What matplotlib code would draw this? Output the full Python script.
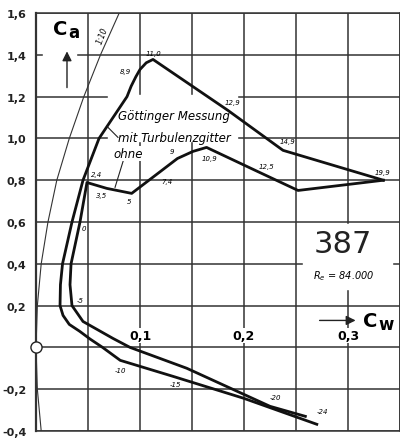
import matplotlib.pyplot as plt
from matplotlib.patches import Rectangle

plt.rcParams['font.family'] = ['Liberation Sans Narrow', 'DejaVu Sans']

# polar with turbulence grid (Göttinger Messung mit Turbulenzgitter)
cw_mit = [0.270, 0.200, 0.132, 0.081, 0.064, 0.052, 0.042, 0.032, 0.026, 0.0231, 0.0235,
          0.0255, 0.0346, 0.0452, 0.0606, 0.0875, 0.0915, 0.096, 0.100, 0.106, 0.1125,
          0.1846, 0.2375, 0.334]
ca_mit = [-0.368, -0.244, -0.139, -0.062, 0.0, 0.040, 0.077, 0.110, 0.153, 0.200, 0.300,
          0.400, 0.600, 0.800, 1.000, 1.200, 1.250, 1.295, 1.330, 1.362, 1.378,
          1.134, 0.943, 0.800]

# polar without grid (ohne)
cw_ohne = [0.259, 0.225, 0.145, 0.0904, 0.074, 0.0452, 0.0346, 0.0327, 0.0337, 0.0423,
           0.049, 0.068, 0.092, 0.121, 0.136, 0.151, 0.164, 0.213, 0.252, 0.334]
ca_ohne = [-0.330, -0.282, -0.100, 0.0, 0.043, 0.124, 0.200, 0.300, 0.400, 0.600,
           0.789, 0.761, 0.737, 0.847, 0.904, 0.938, 0.957, 0.842, 0.751, 0.800]

# induced drag line 1:10
ca_ind = [-0.4, -0.2, 0.0, 0.2, 0.4, 0.6, 0.8, 1.0, 1.2, 1.4, 1.6, 1.7]
cw_ind = [0.005, 0.0013, 0.0, 0.0013, 0.005, 0.0115, 0.020, 0.032, 0.046, 0.062, 0.080, 0.092]

# angle of attack labels: text, cw, ca
aoa_labels = [('2,4', 0.0587, 0.828), ('3,5', 0.0635, 0.727), ('5', 0.0894, 0.699),
              ('7,4', 0.126, 0.794), ('9', 0.1308, 0.938), ('10,9', 0.167, 0.904),
              ('12,5', 0.222, 0.866), ('19,9', 0.333, 0.837), ('14,9', 0.242, 0.986),
              ('12,9', 0.189, 1.172), ('11,0', 0.113, 1.411), ('8,9', 0.0856, 1.325),
              ('0', 0.046, 0.569), ('-5', 0.0423, 0.225), ('-10', 0.081, -0.11),
              ('-15', 0.134, -0.177), ('-20', 0.230, -0.239), ('-24', 0.275, -0.306)]

yticks = [-0.4, -0.2, 0.0, 0.2, 0.4, 0.6, 0.8, 1.0, 1.2, 1.4, 1.6]
ytick_labels = ['-0,4', '-0,2', '', '0,2', '0,4', '0,6', '0,8', '1,0', '1,2', '1,4', '1,6']
xlabels = [(0.1, '0,1'), (0.2, '0,2'), (0.3, '0,3')]

fig = plt.figure(figsize=(4, 4.39), dpi=100)
ax = fig.add_axes([0.09, 0.016, 0.91, 0.952])
ax.set_xlim(0, 0.35)
ax.set_ylim(-0.4, 1.6)
ax.set_xticks([0.05 * i for i in range(8)])
ax.set_xticklabels([])
ax.set_yticks(yticks)
ax.set_yticklabels(ytick_labels, fontsize=8, fontweight='bold', color='#222')
ax.tick_params(length=0, pad=7)
ax.grid(True, color='#333333', lw=1.1, zorder=1)
ax.set_axisbelow(True)
for s in ax.spines.values():
    s.set_color('#333333')
    s.set_linewidth(1.1)
ax.spines['left'].set_linewidth(1.6)

# white patches where the grid is interrupted
ax.add_patch(Rectangle((0.069, 0.99), 0.124, 0.22, color='white', zorder=1.5))
ax.add_patch(Rectangle((0.257, 0.28), 0.085, 0.31, color='white', zorder=1.5))
ax.add_patch(Rectangle((0.007, 1.36), 0.031, 0.08, color='white', zorder=1.5))

ax.plot(cw_ind, ca_ind, color='#333333', lw=0.8, zorder=3)
ax.plot(cw_mit, ca_mit, color='#111111', lw=2.0, zorder=3, solid_joinstyle='round')
ax.plot(cw_ohne, ca_ohne, color='#111111', lw=2.0, zorder=3, solid_joinstyle='round')
ax.plot([0], [0], 'o', ms=8, mfc='white', mec='#222', mew=1.0, clip_on=False, zorder=4)

for txt, x, y in aoa_labels:
    ax.text(x, y, txt, fontsize=5, style='italic', ha='center', va='center', zorder=5)

ax.text(0.0635, 1.497, '1:10', fontsize=5.5, style='italic', rotation=69,
        ha='center', va='center', zorder=5)

ax.text(0.0788, 1.110, 'Göttinger Messung', fontsize=8.5, style='italic', ha='left', va='center', zorder=5)
ax.text(0.0788, 1.005, 'mit Turbulenzgitter', fontsize=8.5, style='italic', ha='left', va='center', zorder=5)
ax.text(0.0885, 0.928, 'ohne', fontsize=8.5, style='italic', ha='center', va='center', zorder=5,
        bbox=dict(fc='white', ec='none', pad=1))
ax.plot([0.0692, 0.0788], [1.053, 1.005], color='#222', lw=0.8, zorder=4)
ax.plot([0.0837, 0.076], [0.89, 0.766], color='#222', lw=0.8, zorder=4)

for x, t in xlabels:
    ax.text(x, 0.057, t, fontsize=9, fontweight='bold', ha='center', va='center', zorder=5,
            bbox=dict(fc='white', ec='none', pad=0.5))

# axis names with arrows
ax.text(0.030, 1.525, 'C', fontsize=14, fontweight='bold', ha='right', va='center', zorder=5)
ax.text(0.031, 1.51, 'a', fontsize=12, fontweight='bold', ha='left', va='center', zorder=5)
ax.annotate('', xy=(0.0298, 1.43), xytext=(0.0298, 1.23),
            arrowprops=dict(arrowstyle='-|>', color='#222', lw=1.0, mutation_scale=14), zorder=5)
ax.text(0.3285, 0.128, 'C', fontsize=14, fontweight='bold', ha='right', va='center', zorder=5,
        bbox=dict(fc='white', ec='none', pad=0.5))
ax.text(0.329, 0.112, 'w', fontsize=12, fontweight='bold', ha='left', va='center', zorder=5)
ax.annotate('', xy=(0.310, 0.129), xytext=(0.270, 0.129),
            arrowprops=dict(arrowstyle='-|>', color='#222', lw=1.0, mutation_scale=14), zorder=5)

ax.text(0.295, 0.498, '387', fontsize=22, ha='center', va='center', color='#222', zorder=5)
ax.text(0.296, 0.344, r'$R_e$ = 84.000', fontsize=7, style='italic', ha='center', va='center', zorder=5)

plt.savefig('out.png', dpi=100)
